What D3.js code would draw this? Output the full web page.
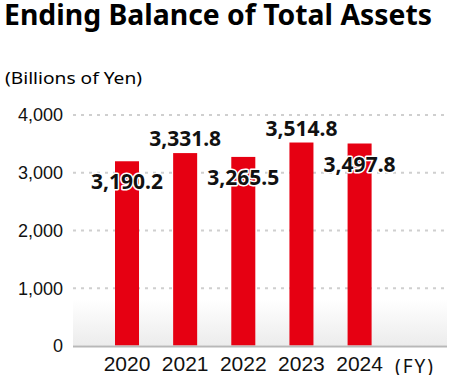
<!DOCTYPE html>
<html>
<head>
<meta charset="utf-8">
<script src="https://cdn.jsdelivr.net/npm/d3@7"></script>
<style>
  body { margin: 0; background: #fff; }
  svg { display: block; font-family: "Noto Sans", sans-serif; }
</style>
</head>
<body>
<svg width="450" height="375"></svg>
<script>
const years = ['2020', '2021', '2022', '2023', '2024'];
const assets = [3190.2, 3331.8, 3265.5, 3514.8, 3497.8];
const yTicks = [0, 1000, 2000, 3000, 4000];

const svg = d3.select('svg');
const margin = {top: 114.5, right: 3, bottom: 29.5, left: 73};
const width = +svg.attr('width');
const height = +svg.attr('height');
const innerWidth = width - margin.left - margin.right;
const innerHeight = height - margin.top - margin.bottom;

// title + unit
svg.append('text')
  .attr('x', 4).attr('y', 25)
  .attr('font-size', 28).attr('font-weight', 700)
  .attr('textLength', 428).attr('lengthAdjust', 'spacingAndGlyphs')
  .text('Ending Balance of Total Assets');

svg.append('text')
  .attr('x', 5).attr('y', 84)
  .attr('font-size', 17)
  .attr('textLength', 137).attr('lengthAdjust', 'spacingAndGlyphs')
  .text('(Billions of Yen)');

const defs = svg.append('defs');
const grad = defs.append('linearGradient')
  .attr('id', 'bg').attr('x1', 0).attr('y1', 0).attr('x2', 0).attr('y2', 1);
grad.append('stop').attr('offset', '0%').attr('stop-color', '#fff');
grad.append('stop').attr('offset', '100%').attr('stop-color', '#ececec');

const g = svg.append('g')
  .attr('transform', `translate(${margin.left},${margin.top})`);

const xScale = d3.scaleBand()
  .domain(years)
  .range([42, 298.6])
  .paddingInner(0.587)
  .paddingOuter(0);

const yScale = d3.scaleLinear()
  .domain([0, 4000])
  .range([innerHeight, 0]);

// soft shading near the base
g.append('rect')
  .attr('x', 0).attr('y', yScale(800))
  .attr('width', innerWidth).attr('height', innerHeight - yScale(800))
  .attr('fill', 'url(#bg)');

// grid
const yAxis = d3.axisLeft(yScale)
  .tickValues(yTicks)
  .tickFormat(d3.format(','))
  .tickSize(-innerWidth)
  .tickPadding(10);

const yAxisG = g.append('g').call(yAxis);
yAxisG.select('.domain').remove();
yAxisG.selectAll('.tick line')
  .attr('stroke', '#cfcfcf')
  .attr('stroke-width', 2)
  .attr('stroke-dasharray', '3,5')
  .filter(d => d === 0).remove();
yAxisG.selectAll('.tick text')
  .attr('font-size', 18)
  .attr('fill', '#111')
  .attr('dy', '0.35em');

// bars
g.selectAll('rect.bar').data(assets)
  .enter().append('rect')
    .attr('class', 'bar')
    .attr('x', (d, i) => xScale(years[i]))
    .attr('y', d => yScale(d))
    .attr('width', xScale.bandwidth())
    .attr('height', d => innerHeight - yScale(d))
    .attr('fill', '#e60012');

// baseline
g.append('line')
  .attr('x1', 0).attr('x2', innerWidth)
  .attr('y1', innerHeight + 1).attr('y2', innerHeight + 1)
  .attr('stroke', '#b8b8b8').attr('stroke-width', 2);

// x axis
const xAxis = d3.axisBottom(xScale).tickSize(0).tickPadding(11);
const xAxisG = g.append('g')
  .attr('transform', `translate(0,${innerHeight})`)
  .call(xAxis);
xAxisG.select('.domain').remove();
xAxisG.selectAll('.tick text')
  .attr('font-size', 21)
  .attr('fill', '#111');

g.append('text')
  .attr('x', 342).attr('y', innerHeight + 27)
  .attr('text-anchor', 'middle')
  .attr('font-size', 19)
  .attr('letter-spacing', 2)
  .attr('fill', '#111')
  .text('(FY)');

// value labels
g.selectAll('text.value').data(assets)
  .enter().append('text')
    .attr('class', 'value')
    .attr('x', (d, i) => xScale(years[i]) + xScale.bandwidth() / 2)
    .attr('y', (d, i) => yScale(d) + (i % 2 ? -7 : 28))
    .attr('text-anchor', 'middle')
    .attr('font-size', 21)
    .attr('font-weight', 700)
    .attr('fill', '#111')
    .attr('stroke', '#fff')
    .attr('stroke-width', 3)
    .attr('stroke-linejoin', 'round')
    .attr('paint-order', 'stroke')
    .text(d => d3.format(',.1f')(d));
</script>
</body>
</html>
